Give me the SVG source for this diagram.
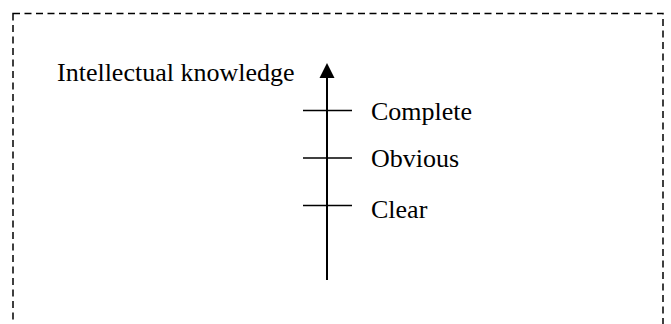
<svg xmlns="http://www.w3.org/2000/svg" width="671" height="324" viewBox="0 0 671 324">
<style>
.lbl{font-family:"Liberation Serif","Times New Roman",serif;font-size:26px;fill:#000}
.tick{stroke:#000;stroke-width:1.5}
</style>
<defs>
<marker id="ah" markerWidth="10" markerHeight="10" viewBox="0 0 16 16" refX="16" refY="8" orient="auto" markerUnits="userSpaceOnUse">
<path d="M0,0 L16,8 L0,16 z" fill="#000"/>
</marker>
</defs>
<rect width="671" height="324" fill="#fff"/>
<g id="frame">
<rect x="13" y="13.5" width="650" height="400" fill="none" stroke="#000" stroke-width="1.5" stroke-dasharray="7 4.5"/>
</g>
<g id="connectors">
<line x1="327" y1="280" x2="327" y2="77" stroke="#000" stroke-width="2"/>
<path d="M327,63 L334.5,78 L319.5,78 z" fill="#000"/>
</g>
<g id="axis-label"><text class="lbl" x="57" y="81">Intellectual knowledge</text></g>
<g id="complete"><line class="tick" x1="303" y1="110.5" x2="352" y2="110.5"/><text class="lbl" x="371" y="120">Complete</text></g>
<g id="obvious"><line class="tick" x1="303" y1="158" x2="352" y2="158"/><text class="lbl" x="371" y="167">Obvious</text></g>
<g id="clear"><line class="tick" x1="303" y1="205.5" x2="352" y2="205.5"/><text class="lbl" x="371" y="218">Clear</text></g>
</svg>
